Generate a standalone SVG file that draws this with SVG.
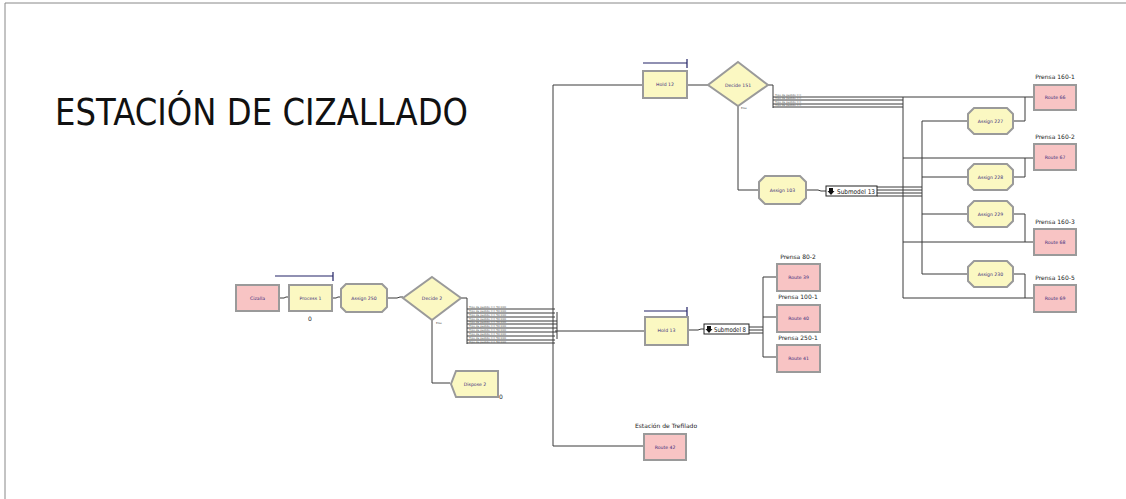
<svg xmlns="http://www.w3.org/2000/svg" width="1126" height="499" viewBox="0 0 1126 499">
<style>
.pink{fill:#f8c4c4;stroke:#9a9a9a;stroke-width:2}
.yel{fill:#fbf8c2;stroke:#9a9a9a;stroke-width:2}
.lbl{font-family:"DejaVu Sans",sans-serif;font-size:4.6px;fill:#3a2a7a;text-anchor:middle}
.cap{font-family:"DejaVu Sans",sans-serif;font-size:6px;fill:#222;text-anchor:middle}
.tiny{font-family:"DejaVu Sans",sans-serif;font-size:2.8px;fill:#555}
.bar{stroke:#222266;stroke-width:1.2;fill:none}
.con{stroke:#3a3a3a;stroke-width:1;fill:none}
.sub{fill:#fff;stroke:#222;stroke-width:1}
.subt{font-family:"DejaVu Sans",sans-serif;font-size:6.5px;fill:#111}
</style>
<rect x="0" y="0" width="1126" height="499" fill="#fff"/>
<path d="M5,499 V3 H1126" fill="none" stroke="#888" stroke-width="1"/>
<text x="55" y="125" font-family="'DejaVu Sans',Tahoma,sans-serif" font-size="38" textLength="413" lengthAdjust="spacingAndGlyphs" fill="#111">ESTACIÓN DE CIZALLADO</text>

<g id="connectors">
<path class="con" d="M280,298 H284 L286,297 H288"/>
<path class="con" d="M332,298 H336 L338,297 H340"/>
<path class="con" d="M387,298 H397 L400,297 H403"/>
<path class="con" d="M432,320 V383 H450"/>
<path class="con" d="M461,298 H467 V344"/>
<path class="con" d="M467,309 H555 M467,313 H555 M467,317 H555 M467,321 H557 M467,324 H557 M467,328 H557 M467,332 H557 M467,336 H555 M467,340 H555 M467,343 H555"/>
<path class="con" d="M553,85 V446 H643"/>
<path class="con" d="M557,312 V339"/>
<path class="con" d="M553,85 H642"/>
<path class="con" d="M555,331 H644"/>
<path class="con" d="M687,85 H708"/>
<path class="con" d="M768,85 H773 V108"/>
<path class="con" d="M773,97 H903 M773,100 H903 M773,104 H903 M773,107 H903"/>
<path class="con" d="M903,97 V298"/>
<path class="con" d="M903,97 H1033 M903,158 H1033 M903,242 H1033 M903,298 H1033"/>
<path class="con" d="M738,105 V190 H759"/>
<path class="con" d="M806,190 H818 L821,191 H826"/>
<path class="con" d="M877,187 H922 M877,190 H922 M877,193 H922 M877,196 H922"/>
<path class="con" d="M922,121 V274"/>
<path class="con" d="M922,121 H968 M922,177 H968 M922,214 H968 M922,274 H968"/>
<path class="con" d="M1013,121 H1025 V97 M1013,177 H1025 V158 M1013,214 H1025 V242 M1013,274 H1025 V298"/>
<path class="con" d="M688,330 H698 L701,329 H704"/>
<path class="con" d="M749,327 H763 M749,330 H763 M749,333 H763"/>
<path class="con" d="M763,277 V357 M763,277 H776 M763,317 H776 M763,357 H776"/>
</g>

<g id="cizalla"><rect class="pink" x="236" y="285" width="43" height="26"/><text class="lbl" x="257.5" y="300">Cizalla</text></g>
<g id="process1"><rect class="yel" x="289" y="285" width="43" height="26"/><text class="lbl" x="310.5" y="300">Process 1</text>
<path class="bar" d="M275,276 H333 M333,272 V281"/><text class="cap" x="310" y="321" font-size="5">0</text></g>
<g id="assign250"><polygon class="yel" points="346,284 382,284 387,289 387,307 382,312 346,312 341,307 341,289"/><text class="lbl" x="364" y="300">Assign 250</text></g>
<g id="decide2"><polygon class="yel" points="432,277 461,298 432,320 403,298"/><text class="lbl" x="432" y="300">Decide 2</text><text class="tiny" x="436" y="324" font-size="3.4">Else</text>
<g class="tiny">
<text x="469" y="308">Tipo de pedido == 50 000</text><text x="469" y="312">Tipo de pedido == 50 000</text><text x="469" y="316">Tipo de pedido == 50 000</text><text x="469" y="320">Tipo de pedido == 50 000</text><text x="469" y="323">Tipo de pedido == 50 000</text><text x="469" y="327">Tipo de pedido == 50 000</text><text x="469" y="331">Tipo de pedido == 50 000</text><text x="469" y="335">Tipo de pedido == 50 000</text><text x="469" y="339">Tipo de pedido == 50 000</text><text x="469" y="342.5">Tipo de pedido == 50 000</text>
</g></g>
<g id="dispose2"><polygon class="yel" points="456,371 498,371 498,397 456,397 451,384"/><text class="lbl" x="475" y="386">Dispose 2</text><text class="cap" x="501" y="399" font-size="5">0</text></g>

<g id="hold12"><rect class="yel" x="643" y="71" width="44" height="27"/><text class="lbl" x="665" y="86">Hold 12</text><path class="bar" d="M643,63 H687 M687,59 V68"/></g>
<g id="decide151"><polygon class="yel" points="738,62 768,85 738,106 708,85"/><text class="lbl" x="738" y="87">Decide 151</text><text class="tiny" x="741" y="109" font-size="3.4">Else</text>
<g class="tiny"><text x="775" y="96">Tipo de pedido ==</text><text x="775" y="99">Tipo de pedido ==</text><text x="775" y="103">Tipo de pedido ==</text><text x="775" y="106">Tipo de pedido ==</text></g></g>
<g id="assign103"><polygon class="yel" points="765,176 800,176 806,182 806,198 800,204 765,204 759,198 759,182"/><text class="lbl" x="782.5" y="192">Assign 103</text></g>
<g id="submodel13"><rect class="sub" x="826" y="186" width="51" height="10"/><path d="M829,188 h4 v3 h1.5 l-3.5,4 l-3.5,-4 h1.5 z" fill="#111"/><text class="subt" x="837" y="193.5" textLength="38" lengthAdjust="spacingAndGlyphs">Submodel 13</text></g>

<g id="assign227"><polygon class="yel" points="974,108 1007,108 1013,114 1013,128 1007,134 974,134 968,128 968,114"/><text class="lbl" x="990.5" y="123">Assign 227</text></g>
<g id="assign228"><polygon class="yel" points="974,164 1007,164 1013,170 1013,184 1007,190 974,190 968,184 968,170"/><text class="lbl" x="990.5" y="179">Assign 228</text></g>
<g id="assign229"><polygon class="yel" points="974,201 1007,201 1013,207 1013,221 1007,227 974,227 968,221 968,207"/><text class="lbl" x="990.5" y="216">Assign 229</text></g>
<g id="assign230"><polygon class="yel" points="974,261 1007,261 1013,267 1013,281 1007,287 974,287 968,281 968,267"/><text class="lbl" x="990.5" y="276">Assign 230</text></g>

<g id="route66"><text class="cap" x="1055" y="79">Prensa 160-1</text><rect class="pink" x="1034" y="85" width="42" height="25"/><text class="lbl" x="1055" y="99">Route 66</text></g>
<g id="route67"><text class="cap" x="1055" y="139">Prensa 160-2</text><rect class="pink" x="1034" y="144" width="42" height="26"/><text class="lbl" x="1055" y="159">Route 67</text></g>
<g id="route68"><text class="cap" x="1055" y="224">Prensa 160-3</text><rect class="pink" x="1034" y="229" width="42" height="26"/><text class="lbl" x="1055" y="244">Route 68</text></g>
<g id="route69"><text class="cap" x="1055" y="280">Prensa 160-5</text><rect class="pink" x="1034" y="285" width="42" height="27"/><text class="lbl" x="1055" y="300">Route 69</text></g>

<g id="hold13"><rect class="yel" x="645" y="317" width="43" height="28"/><text class="lbl" x="666.5" y="332">Hold 13</text><path class="bar" d="M644,311 H687 M687,307 V316"/></g>
<g id="submodel8"><rect class="sub" x="704" y="324" width="45" height="10"/><path d="M707,326 h4 v3 h1.5 l-3.5,4 l-3.5,-4 h1.5 z" fill="#111"/><text class="subt" x="714" y="331.5" textLength="32" lengthAdjust="spacingAndGlyphs">Submodel 8</text></g>
<g id="route39"><text class="cap" x="798" y="259">Prensa 80-2</text><rect class="pink" x="777" y="264" width="43" height="27"/><text class="lbl" x="798.5" y="279">Route 39</text></g>
<g id="route40"><text class="cap" x="798" y="299">Prensa 100-1</text><rect class="pink" x="777" y="305" width="43" height="27"/><text class="lbl" x="798.5" y="320">Route 40</text></g>
<g id="route41"><text class="cap" x="798" y="340">Prensa 250-1</text><rect class="pink" x="777" y="345" width="43" height="27"/><text class="lbl" x="798.5" y="360">Route 41</text></g>
<g id="route42"><text class="cap" x="666" y="428">Estación de Trefilado</text><rect class="pink" x="644" y="434" width="42" height="26"/><text class="lbl" x="665" y="449">Route 42</text></g>
</svg>
